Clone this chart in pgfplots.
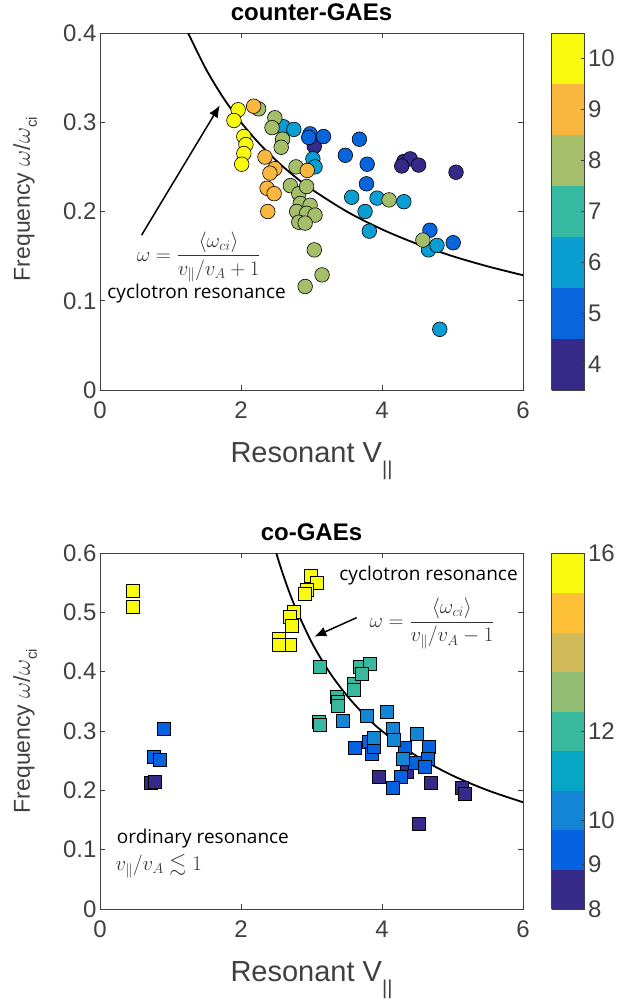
\documentclass[border=0pt]{standalone}
\usepackage{amsmath,amssymb}
\usepackage{fontspec}
\setmainfont{Liberation Sans}
\newfontfamily\annfont{Open Sans}
\usepackage{pgfplots}
\pgfplotsset{compat=1.18}
\usetikzlibrary{arrows.meta}

\newcommand\tickfont{\fontsize{24}{24}\selectfont}
\newcommand\labfont{\fontsize{23}{23}\selectfont}
\newcommand\xlabfont{\fontsize{29}{29}\selectfont}
\newcommand\annsize{\fontsize{19}{19}\selectfont}
\newcommand\mathsize{\fontsize{22}{22}\selectfont}

\definecolor{axgray}{rgb}{0.25,0.25,0.25}

\pgfplotsset{
  colormap={topmap}{rgb255=(53,42,135) rgb255=(9,101,220) rgb255=(10,158,210)
    rgb255=(55,184,160) rgb255=(165,190,106) rgb255=(250,183,64)
    rgb255=(249,251,14)},
  colormap={botmap}{rgb255=(53,42,135) rgb255=(5,98,225) rgb255=(20,133,212)
    rgb255=(6,167,198) rgb255=(56,185,158) rgb255=(146,191,115)
    rgb255=(208,186,89) rgb255=(253,191,54) rgb255=(249,251,14)},
  gaeaxis/.style={
    scale only axis, width=423pt,
    anchor=north west,
    xmin=0, xmax=6,
    xtick={0,2,4,6}, xticklabels={0,2,4,6},
    tick align=inside, tick pos=both,
    major tick length=5pt,
    axis line style={axgray, line width=0.7pt},
    tick style={axgray, line width=0.6pt},
    ticklabel style={font=\tickfont, text=axgray},
    xticklabel style={yshift=-8pt},
    every axis title/.style={at={(axis description cs:0.5,1)}, anchor=base,
      yshift=13pt, font=\bfseries\fontsize{24}{24}\selectfont},
    every axis x label/.style={at={(axis description cs:0.5,0)}, anchor=base,
      yshift=-72pt, font=\xlabfont, text=axgray},
    colormap access=piecewise constant,
    colorbar,
    colorbar style={
      width=33pt, at={(parent axis.north east)}, anchor=north west,
      xshift=20pt,
      ytick pos=right, yticklabel pos=right, tick align=inside,
      major tick length=4pt,
      axis line style={axgray, line width=0.7pt},
      tick style={axgray, line width=0.6pt},
      ticklabel style={font=\tickfont, text=axgray},
    },
    scatter, only marks,
    scatter/use mapped color={draw=black, fill=mapped color},
    point meta=explicit,
  },
}

\pgfplotstableread{
x y c
3.04 0.273 4
4.31 0.256 4
4.40 0.259 4
4.52 0.252 4
4.28 0.251 4
5.05 0.244 4
2.98 0.287 5
3.17 0.284 5
2.96 0.283 5
3.68 0.281 5
3.48 0.263 5
3.79 0.253 5
3.78 0.231 5
4.68 0.179 5
5.01 0.165 5
2.60 0.295 6
2.75 0.292 6
3.02 0.259 6
3.05 0.250 6
3.57 0.216 6
3.93 0.215 6
4.31 0.211 6
3.76 0.200 6
3.82 0.178 6
4.66 0.157 6
4.78 0.162 6
4.82 0.068 6
2.25 0.315 8
2.48 0.305 8
2.44 0.294 8
2.59 0.281 8
2.57 0.272 8
2.78 0.250 8
2.70 0.229 8
2.82 0.220 8
2.93 0.228 8
2.84 0.209 8
2.98 0.207 8
2.79 0.200 8
2.93 0.198 8
3.05 0.196 8
2.82 0.188 8
2.91 0.187 8
3.04 0.157 8
3.15 0.129 8
2.91 0.116 8
4.10 0.213 8
4.58 0.168 8
2.18 0.318 9
2.34 0.261 9
2.48 0.248 9
2.41 0.243 9
2.37 0.226 9
2.47 0.220 9
2.38 0.200 9
2.94 0.246 9
1.96 0.314 10
1.90 0.302 10
2.04 0.284 10
2.07 0.275 10
2.04 0.265 10
2.01 0.253 10
}\toppoints

\pgfplotstableread{
x y c
0.72 0.213 8.4
0.78 0.215 8.4
3.95 0.223 8.4
4.35 0.232 8.4
4.69 0.213 8.4
5.13 0.204 8.4
5.18 0.195 8.4
4.52 0.144 8.4
0.90 0.303 9.3
0.77 0.257 9.3
0.85 0.252 9.3
3.62 0.271 9.3
3.81 0.282 9.3
3.86 0.262 9.3
3.88 0.273 9.3
4.26 0.223 9.3
4.16 0.205 9.3
4.47 0.246 9.3
4.66 0.274 9.3
4.65 0.254 9.3
4.61 0.240 9.3
4.33 0.271 9.3
3.45 0.318 10.2
3.78 0.325 10.2
4.07 0.332 10.2
3.88 0.289 10.2
4.16 0.303 10.2
4.17 0.286 10.2
4.30 0.254 10.2
4.49 0.296 10.2
3.12 0.408 12
3.10 0.316 12
3.12 0.310 12
3.36 0.358 12
3.38 0.349 12
3.37 0.342 12
3.60 0.380 12
3.60 0.369 12
3.69 0.408 12
3.82 0.414 12
3.72 0.397 12
0.46 0.536 15.6
0.46 0.510 15.6
2.99 0.562 15.6
3.08 0.550 15.6
2.93 0.538 15.6
2.90 0.532 15.6
2.75 0.501 15.6
2.69 0.493 15.6
2.72 0.477 15.6
2.53 0.456 15.6
2.69 0.446 15.6
2.53 0.446 15.6
}\botpoints

\begin{document}
\begin{tikzpicture}
\useasboundingbox (-100pt,33pt) rectangle (534pt,-969pt);

% counter-propagating modes
\begin{axis}[gaeaxis, at={(0pt,0pt)}, height=357pt,
  ymin=0, ymax=0.4,
  ytick={0,0.1,0.2,0.3,0.4}, yticklabels={0,0.1,0.2,0.3,0.4},
  title={counter-GAEs},
  xlabel={Resonant V\raisebox{-0.45em}{\fontsize{20}{20}\selectfont ||}},
  ylabel={Frequency $\omega$/$\omega$\raisebox{-0.3em}{\fontsize{15}{15}\selectfont ci}},
  every axis y label/.style={at={(axis description cs:-0.177,0.535)},
    rotate=90, anchor=center, font=\labfont, text=axgray},
  colormap name=topmap,
  point meta min=3.5, point meta max=10.5,
  colorbar style={ytick={4,5,6,7,8,9,10}, yticklabels={4,5,6,7,8,9,10}},
]
\addplot[scatter, only marks, mark=*, mark size=7.3pt,
  mark options={line width=0.6pt}] table[x=x, y=y, meta=c] {\toppoints};
\addplot[black, line width=1.8pt, smooth, no markers, scatter=false] coordinates {
  (1.25,0.400) (1.5,0.360) (1.75,0.3273) (2,0.300) (2.25,0.2769) (2.5,0.2571)
  (2.75,0.240) (3,0.225) (3.5,0.200) (4,0.180) (4.5,0.1636) (5,0.150)
  (5.5,0.1385) (6,0.1286)
};
\draw[-{Latex[length=12pt,width=10pt]}, line width=1.5pt]
  (axis cs:0.59,0.1735) -- (axis cs:1.70,0.319);
\node[text=black!80, font=\mathsize, inner sep=1pt] at (axis cs:1.40,0.149)
  {$\omega=\dfrac{\langle\omega_{ci}\rangle}{v_\parallel/v_A+1}$};
\node[font=\annfont\annsize, inner sep=1pt] at (axis cs:1.37,0.1075) {cyclotron resonance};
\end{axis}

% co-propagating modes
\begin{axis}[gaeaxis, at={(0pt,-520pt)}, height=356pt,
  ymin=0, ymax=0.6,
  ytick={0,0.1,0.2,0.3,0.4,0.5,0.6}, yticklabels={0,0.1,0.2,0.3,0.4,0.5,0.6},
  title={co-GAEs},
  xlabel={Resonant V\raisebox{-0.45em}{\fontsize{20}{20}\selectfont ||}},
  ylabel={Frequency $\omega$/$\omega$\raisebox{-0.3em}{\fontsize{15}{15}\selectfont ci}},
  every axis y label/.style={at={(axis description cs:-0.177,0.5)},
    rotate=90, anchor=center, font=\labfont, text=axgray},
  colormap name=botmap,
  point meta min=8, point meta max=16,
  colorbar style={ytick={8,9,10,12,16}, yticklabels={8,9,10,12,16}},
]
\addplot[scatter, only marks, mark=square*, mark size=6.5pt,
  mark options={line width=0.6pt}] table[x=x, y=y, meta=c] {\botpoints};
\addplot[black, line width=1.8pt, smooth, no markers, scatter=false] coordinates {
  (2.5,0.600) (2.6,0.5625) (2.75,0.5143) (3,0.450) (3.25,0.400) (3.5,0.360)
  (3.75,0.3273) (4,0.300) (4.5,0.2571) (5,0.225) (5.5,0.200) (6,0.180)
};
\draw[-{Latex[length=12pt,width=10pt]}, line width=1.5pt]
  (axis cs:3.64,0.491) -- (axis cs:3.04,0.459);
\node[font=\annfont\annsize, inner sep=1pt] at (axis cs:4.66,0.562) {cyclotron resonance};
\node[text=black!80, font=\mathsize, inner sep=1pt] at (axis cs:4.71,0.481)
  {$\omega=\dfrac{\langle\omega_{ci}\rangle}{v_\parallel/v_A-1}$};
\node[font=\annfont\annsize, anchor=west, inner sep=0pt] at (axis cs:0.237,0.119) {ordinary resonance};
\node[text=black!80, font=\mathsize, anchor=west, inner sep=0pt]
  at (axis cs:0.22,0.072) {$v_\parallel/v_A\lesssim 1$};
\end{axis}
\end{tikzpicture}
\end{document}
